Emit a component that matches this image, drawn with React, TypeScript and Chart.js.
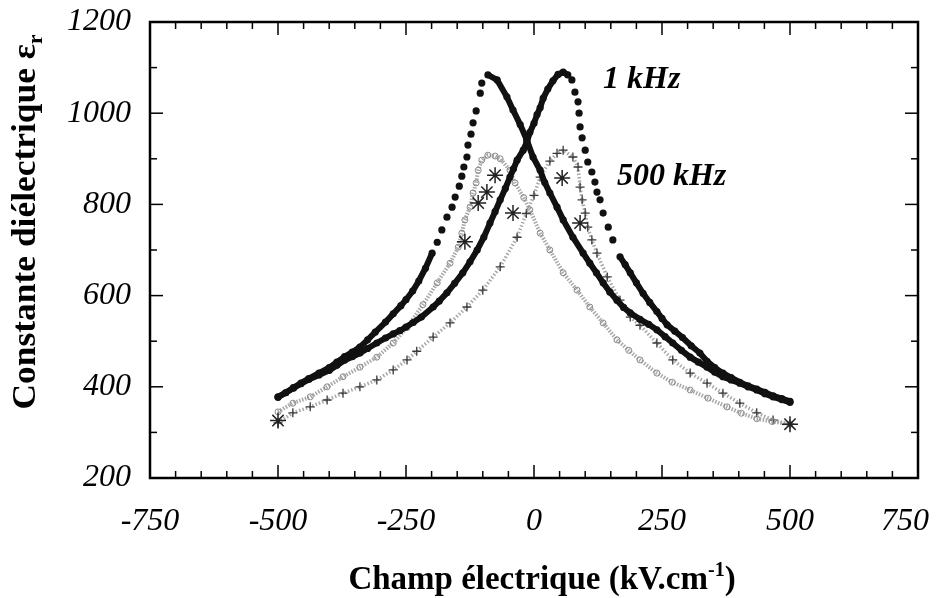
import React, { useEffect, useRef } from "react";
import { Chart, registerables } from "chart.js";
Chart.register(...registerables);

// ---- axis ticks ----
const X_TICKS = [-750, -500, -250, 0, 250, 500, 750];
const Y_TICKS = [200, 400, 600, 800, 1000, 1200];
const X_MINOR_STEP = 50;
const Y_MINOR_STEP = 100;

// ---- 1 kHz, branch with peak at negative field ----
const E_1K_A = [-500,-485,-470,-455,-440,-420,-400,-385,-370,-355,-340,-325,-310,-290,-275,-260,-250,-237,-225,-212,-199,-189,-180,-170,-160,-154,-146,-141,-137,-131,-129,-123,-119,-113,-105,-102,-90,-72,-53,-41,-27,-14,-2,12,21,31,45,57,76,96,109,122,135,148,162,175,188,207,224,240,256,271,288,305,321,338,353,369,385,402,418,435,451,467,484,500];
const EPS_1K_A = [377,387,398,408,418,430,442,454,466,476,487,503,520,542,560,578,591,610,632,660,693,717,744,772,794,816,840,862,882,904,930,954,979,1005,1044,1066,1084,1073,1036,1007,975,941,904,875,848,825,794,766,728,693,671,650,628,608,590,574,562,548,537,525,510,496,480,465,454,443,432,422,415,408,400,393,385,378,372,366];

// ---- 1 kHz, branch with peak at positive field ----
const E_1K_B = [-500,-485,-470,-455,-440,-420,-400,-385,-370,-355,-340,-325,-307,-290,-275,-262,-250,-236,-220,-197,-185,-170,-155,-139,-125,-111,-98,-86,-76,-66,-56,-47,-40,-33,-21,-14,-8,0,6,12,18,27,37,47,57,66,74,80,86,88,90,94,100,105,113,119,123,129,135,145,154,168,178,188,200,213,226,240,250,260,275,290,307,324,338,353,369,385,402,418,435,451,467,484,500];
const EPS_1K_B = [378,387,397,407,416,426,436,447,458,466,474,484,496,507,516,523,531,541,553,575,588,606,627,650,674,700,728,759,784,810,835,860,878,897,919,937,958,978,997,1012,1033,1053,1071,1085,1090,1084,1073,1046,1025,1000,970,946,919,893,871,849,827,810,781,750,722,685,668,650,628,605,585,565,550,536,522,508,490,474,456,442,430,420,410,402,395,388,380,374,368];

// ---- 500 kHz, branch with peak at negative field ----
const E_500K_A = [-500,-471,-437,-404,-373,-340,-307,-275,-248,-217,-189,-164,-148,-141,-135,-125,-119,-113,-109,-102,-90,-76,-66,-47,-37,-20,-8,12,31,57,84,109,135,162,185,207,240,270,305,340,377,405,435,465,500];
const EPS_500K_A = [345,364,378,400,422,443,465,496,530,580,628,671,706,737,766,794,825,847,875,897,908,906,900,875,847,815,788,737,700,650,612,575,540,503,480,459,430,410,393,375,356,342,330,324,318];

// ---- 500 kHz, branch with peak at positive field ----
const E_500K_B = [-500,-471,-437,-404,-373,-340,-307,-275,-248,-229,-197,-164,-131,-100,-66,-33,-15,0,12,31,45,57,76,86,90,94,100,105,113,123,143,168,188,207,240,271,305,338,369,402,435,467,500];
const EPS_500K_B = [321,343,356,371,386,400,415,437,459,478,509,540,575,612,663,728,780,820,860,895,912,919,904,882,838,810,781,750,722,693,641,590,553,535,496,459,430,408,386,364,343,327,318];

// ---- asterisk markers ----
const E_STAR = [-500,-135,-109,-92,-76,-41,55,90,500];
const EPS_STAR = [326,718,803,827,864,781,858,759,318];

// ---- in-plot labels ----
const LABELS = [
  { text: "1 kHz", x: 135, y: 1055 },
  { text: "500 kHz", x: 162, y: 843 },
];

const SERIF = "'Liberation Serif', 'Times New Roman', Times, serif";

function pts(xs: number[], ys: number[]) {
  return xs.map((x, i) => ({ x, y: ys[i] }));
}

export default function App() {
  const ref = useRef<HTMLCanvasElement>(null);

  useEffect(() => {
    document.body.style.margin = "0";
    const canvas = ref.current!;

    const gap = (xs: number[], lo: number, hi: number, color: string) => ({
      borderColor: (c: any) => {
        const a = xs[c.p0DataIndex];
        const b = xs[c.p1DataIndex];
        return a >= lo && b <= hi ? "rgba(0,0,0,0)" : color;
      },
    });

    const decor = {
      id: "decor",
      afterDatasetsDraw(chart: any) {
        const { ctx, chartArea: a, scales } = chart;
        const x = scales.x;
        const y = scales.y;
        ctx.save();
        ctx.strokeStyle = "#000";
        ctx.lineWidth = 1.5;
        const line = (x0: number, y0: number, x1: number, y1: number) => {
          ctx.beginPath();
          ctx.moveTo(x0, y0);
          ctx.lineTo(x1, y1);
          ctx.stroke();
        };
        const xmin = X_TICKS[0], xmax = X_TICKS[X_TICKS.length - 1];
        for (let v = xmin; v <= xmax; v += X_MINOR_STEP) {
          const px = x.getPixelForValue(v);
          const len = X_TICKS.includes(v) ? 13 : 7;
          line(px, a.bottom, px, a.bottom - len);
          line(px, a.top, px, a.top + len);
        }
        const ymin = Y_TICKS[0], ymax = Y_TICKS[Y_TICKS.length - 1];
        for (let v = ymin; v <= ymax; v += Y_MINOR_STEP) {
          const py = y.getPixelForValue(v);
          const len = Y_TICKS.includes(v) ? 13 : 7;
          line(a.left, py, a.left + len, py);
          line(a.right, py, a.right - len, py);
        }
        ctx.lineWidth = 2.5;
        ctx.strokeRect(a.left, a.top, a.right - a.left, a.bottom - a.top);

        ctx.fillStyle = "#000";
        ctx.textBaseline = "alphabetic";

        // x tick labels
        ctx.font = `italic 32px ${SERIF}`;
        ctx.textAlign = "left";
        for (const v of X_TICKS) {
          const s = String(v);
          const w = ctx.measureText(s).width;
          let left = x.getPixelForValue(v) - w / 2;
          if (left + w > 929) left = 929 - w;
          ctx.fillText(s, left, 530);
        }

        // in-plot labels
        ctx.font = `italic bold 32px ${SERIF}`;
        for (const l of LABELS) {
          ctx.fillText(l.text, x.getPixelForValue(l.x), y.getPixelForValue(l.y));
        }

        // x axis title with superscript
        const big = `bold 33px ${SERIF}`;
        const small = `bold 20px ${SERIF}`;
        const parts: [string, string, number][] = [
          ["Champ électrique (kV.cm", big, 0],
          ["-1", small, -13],
          [")", big, 0],
        ];
        let total = 0;
        for (const p of parts) { ctx.font = p[1]; total += ctx.measureText(p[0]).width; }
        let cx = 542 - total / 2;
        for (const p of parts) {
          ctx.font = p[1];
          ctx.fillText(p[0], cx, 589 + p[2]);
          cx += ctx.measureText(p[0]).width;
        }

        // y axis title with subscript
        const yparts: [string, string, number][] = [
          ["Constante diélectrique ε", big, 0],
          ["r", small, 7],
        ];
        total = 0;
        for (const p of yparts) { ctx.font = p[1]; total += ctx.measureText(p[0]).width; }
        ctx.translate(35, 222);
        ctx.rotate(-Math.PI / 2);
        const stretch = 375 / total;
        ctx.scale(stretch, 1);
        cx = -total / 2;
        for (const p of yparts) {
          ctx.font = p[1];
          ctx.fillText(p[0], cx, p[2]);
          cx += ctx.measureText(p[0]).width;
        }
        ctx.restore();
      },
    };

    const chart = new Chart(canvas, {
      type: "scatter",
      data: {
        datasets: [
          {
            label: "1 kHz A",
            data: pts(E_1K_A, EPS_1K_A),
            showLine: true,
            borderColor: "#111",
            borderWidth: 6,
            pointRadius: 3.6,
            pointBackgroundColor: "#111",
            pointBorderWidth: 0,
            segment: gap(E_1K_A, -200, -90, "#111"),
            order: 1,
          },
          {
            label: "1 kHz B",
            data: pts(E_1K_B, EPS_1K_B),
            showLine: true,
            borderColor: "#111",
            borderWidth: 6,
            pointRadius: 3.6,
            pointBackgroundColor: "#111",
            pointBorderWidth: 0,
            segment: gap(E_1K_B, 66, 170, "#111"),
            order: 2,
          },
          {
            label: "asterisks",
            data: pts(E_STAR, EPS_STAR),
            showLine: false,
            pointStyle: "star",
            pointRadius: 8,
            pointBorderColor: "#222",
            pointBorderWidth: 1.5,
            pointBackgroundColor: "rgba(0,0,0,0)",
            order: 3,
          },
          {
            label: "500 kHz A",
            data: pts(E_500K_A, EPS_500K_A),
            showLine: true,
            borderColor: "#a8a8a8",
            borderWidth: 4,
            borderDash: [1.5, 1.5],
            pointStyle: "circle",
            pointRadius: 3,
            pointBorderColor: "#8a8a8a",
            pointBorderWidth: 1,
            pointBackgroundColor: "rgba(255,255,255,0)",
            order: 4,
          },
          {
            label: "500 kHz B",
            data: pts(E_500K_B, EPS_500K_B),
            showLine: true,
            borderColor: "#a8a8a8",
            borderWidth: 3.5,
            borderDash: [1.5, 2],
            pointStyle: "cross",
            pointRadius: 4.5,
            pointBorderColor: "#3a3a3a",
            pointBorderWidth: 1.3,
            order: 5,
          },
        ],
      },
      options: {
        animation: false,
        responsive: false,
        devicePixelRatio: 1,
        layout: { padding: { top: 22, right: 18, left: 0, bottom: 0 } },
        plugins: { legend: { display: false }, tooltip: { enabled: false } },
        scales: {
          x: {
            type: "linear",
            min: X_TICKS[0],
            max: X_TICKS[X_TICKS.length - 1],
            afterBuildTicks: (s: any) => { s.ticks = X_TICKS.map((v) => ({ value: v })); },
            afterFit: (s: any) => { s.height = 120; s.paddingLeft = 0; s.paddingRight = 0; },
            grid: { display: false, drawTicks: false },
            border: { display: false },
            ticks: { display: false },
          },
          y: {
            type: "linear",
            min: Y_TICKS[0],
            max: Y_TICKS[Y_TICKS.length - 1],
            afterBuildTicks: (s: any) => { s.ticks = Y_TICKS.map((v) => ({ value: v })); },
            afterFit: (s: any) => { s.width = 150; s.paddingTop = 0; s.paddingBottom = 0; },
            grid: { display: false, drawTicks: false },
            border: { display: false },
            ticks: {
              autoSkip: false,
              padding: 19,
              color: "#000",
              callback: (v: any) => String(v),
              font: { family: SERIF, size: 32, style: "italic" },
            },
          },
        },
      },
      plugins: [decor],
    } as any);

    return () => chart.destroy();
  }, []);

  return (
    <div style={{ position: "relative", width: 936, height: 598 }}>
      <canvas ref={ref} width={936} height={598} style={{ display: "block" }} />
    </div>
  );
}
